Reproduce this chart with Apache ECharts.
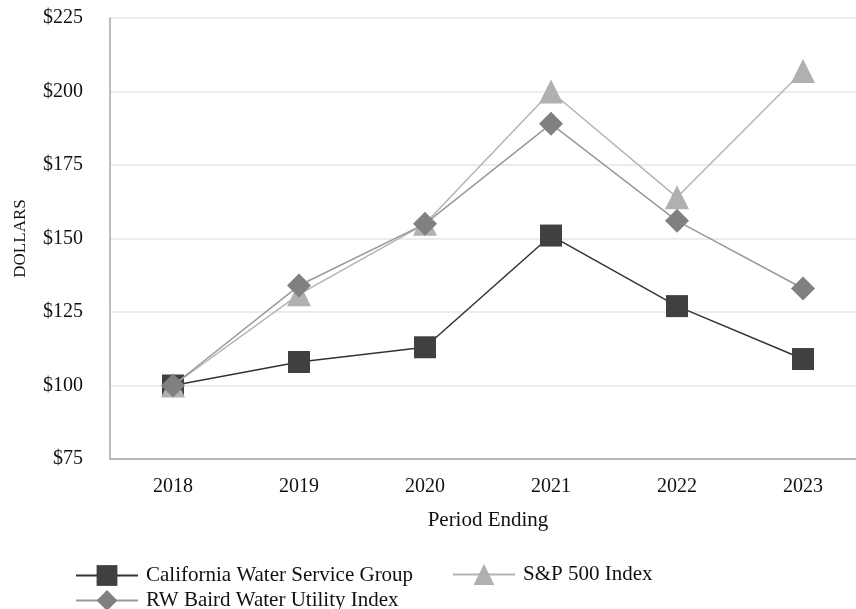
<!DOCTYPE html>
<html><head><meta charset="utf-8">
<script src="https://cdn.jsdelivr.net/npm/echarts@6/dist/echarts.min.js"></script>
<style>html,body{margin:0;padding:0;background:#fff}#c{width:856px;height:609px}</style>
</head><body><div id="c"></div>
<script>
const categories = ['2018','2019','2020','2021','2022','2023'];
const calWater = [100, 108, 113, 151, 127, 109];
const sp500 = [100, 131, 155, 200, 164, 207];
const rwBaird = [100, 134, 155, 189, 156, 133];
const seriesNames = ['California Water Service Group','S&P 500 Index','RW Baird Water Utility Index'];
const yTicks = [75, 225, 25];

const font = 'Liberation Serif';
const legendBase = {
  orient: 'horizontal', itemWidth: 62, itemHeight: 26, padding: 0,
  textStyle: {fontFamily: font, fontSize: 21, color: '#111', padding: [0, 0, 0, 3]}
};
const chart = echarts.init(document.getElementById('c'));
chart.setOption({
  animation: false,
  textStyle: {fontFamily: font},
  grid: {left: 110, top: 18, height: 441, width: 756, containLabel: false, outerBoundsMode: 'none'},
  legend: [
    Object.assign({data: [seriesNames[0]], left: 75, top: 565}, legendBase),
    Object.assign({data: [seriesNames[1]], left: 452, top: 564}, legendBase),
    Object.assign({data: [seriesNames[2]], left: 75, top: 590}, legendBase)
  ],
  xAxis: {
    type: 'category', data: categories, boundaryGap: true,
    name: 'Period Ending', nameLocation: 'middle', nameGap: 51,
    nameTextStyle: {fontFamily: font, fontSize: 21, color: '#111'},
    axisLine: {lineStyle: {color: '#a6a6a6', width: 1.5}},
    axisTick: {alignWithLabel: true, length: 7, lineStyle: {color: '#a6a6a6', width: 1.5}},
    axisLabel: {fontFamily: font, fontSize: 20, color: '#111', margin: 18},
    splitLine: {show: false}
  },
  yAxis: {
    type: 'value', min: yTicks[0], max: yTicks[1], interval: yTicks[2],
    name: 'DOLLARS', nameLocation: 'middle', nameGap: 81, nameRotate: 90,
    nameTextStyle: {fontFamily: font, fontSize: 17, color: '#111'},
    axisLine: {show: true, lineStyle: {color: '#a6a6a6', width: 1.5}},
    axisTick: {show: false},
    axisLabel: {fontFamily: font, fontSize: 20, color: '#111', margin: 27, formatter: v => '$' + v},
    splitLine: {lineStyle: {color: '#e6e6e6', width: 1.5}}
  },
  series: [
    {name: seriesNames[0], type: 'line', data: calWater, symbol: 'rect', symbolSize: 22,
     lineStyle: {color: '#333333', width: 1.5}, itemStyle: {color: '#404040'}, z: 2},
    {name: seriesNames[1], type: 'line', data: sp500, symbol: 'triangle', symbolSize: 24,
     lineStyle: {color: '#b4b4b4', width: 1.5}, itemStyle: {color: '#b0b0b0'}, z: 3},
    {name: seriesNames[2], type: 'line', data: rwBaird, symbol: 'diamond', symbolSize: 24,
     lineStyle: {color: '#999999', width: 1.5}, itemStyle: {color: '#808080'}, z: 4}
  ]
});
</script></body></html>
